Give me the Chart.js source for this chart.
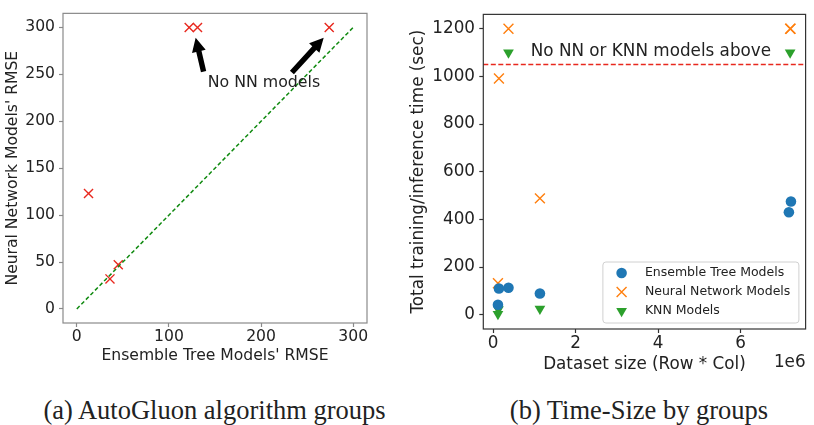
<!DOCTYPE html>
<html>
<head>
<meta charset="utf-8">
<script src="https://cdn.jsdelivr.net/npm/chart.js@4/dist/chart.umd.min.js"></script>
<style>
  body { margin: 0; background: #fff; width: 814px; height: 425px; position: relative; overflow: hidden; }
  canvas { position: absolute; }
  .cap { position: absolute; top: 394px; line-height: 32px; font-family: "Liberation Serif", serif; font-size: 26.5px; color: #222; text-align: center; white-space: nowrap; }
</style>
</head>
<body>
<canvas id="rmseChart" width="405" height="375" style="left:0;top:0"></canvas>
<canvas id="timeChart" width="409" height="375" style="left:405px;top:0"></canvas>
<div class="cap" style="left:0;width:429px">(a) AutoGluon algorithm groups</div>
<div class="cap" style="left:469px;width:340px">(b) Time-Size by groups</div>
<script>
/*global Chart*/

//----------------------------------------------------------------
/* data: (a) RMSE by algorithm group */
//----------------------------------------------------------------
var treeRmse = [12.7, 36, 45, 122, 131, 274];
var nnRmse = [123, 32, 47, 300, 300, 300];
var diagLine = [0, 300];
var rmseXTicks = [0, 100, 200, 300];
var rmseYTicks = [0, 50, 100, 150, 200, 250, 300];

//----------------------------------------------------------------
/* data: (b) time vs dataset size */
//----------------------------------------------------------------
var groupNames = ["Ensemble Tree Models", "Neural Network Models", "KNN Models"];
var treeSize = [0.119e6, 0.143e6, 0.374e6, 1.136e6, 7.17e6, 7.22e6];
var treeTime = [42, 110, 113, 89, 430, 475];
var nnSize = [0.119e6, 0.143e6, 0.374e6, 1.136e6, 7.2e6, 7.21e6];
var nnTime = [132, 991, 1200, 488, 1200, 1200];
var knnSize = [0.119e6, 0.13e6, 0.374e6, 1.136e6, 7.2e6];
var knnTime = [3, 22, 1100, 25, 1100];
var cutoff = 1050;
var sizeTicks = [0, 2e6, 4e6, 6e6];
var timeTicks = [0, 200, 400, 600, 800, 1000, 1200];

function pts(xs, ys) {
    return xs.map(function (x, i) { return {x: x, y: ys[i]}; });
}
function fixTicks(vals) {
    return function (axis) { axis.ticks = vals.map(function (v) { return {value: v}; }); };
}
function plain(v) { return String(v); }
function arrow(ctx, x0, y0, x1, y1) {
    var a = Math.atan2(y1 - y0, x1 - x0), len = Math.hypot(x1 - x0, y1 - y0);
    var hl = 14, hw = 7, sw = 2.7;
    ctx.save();
    ctx.translate(x0, y0);
    ctx.rotate(a);
    ctx.beginPath();
    ctx.moveTo(0, -sw);
    ctx.lineTo(len - hl, -sw);
    ctx.lineTo(len - hl, -hw);
    ctx.lineTo(len, 0);
    ctx.lineTo(len - hl, hw);
    ctx.lineTo(len - hl, sw);
    ctx.lineTo(0, sw);
    ctx.closePath();
    ctx.fillStyle = '#000';
    ctx.fill();
    ctx.restore();
}
function frame(color) {
    return {
        id: 'frame',
        afterDraw: function (chart) {
            var c = chart.chartArea, ctx = chart.ctx;
            ctx.save();
            ctx.strokeStyle = color;
            ctx.lineWidth = 1.2;
            ctx.strokeRect(c.left, c.top, c.right - c.left, c.bottom - c.top);
            ctx.restore();
        }
    };
}

//----------------------------------------------------------------
/* (a) AutoGluon algorithm groups */
//----------------------------------------------------------------
var fontA = {family: 'DejaVu Sans', size: 15.6};
var notesA = {
    id: 'notesA',
    afterDatasetsDraw: function (chart) {
        var ctx = chart.ctx, x = chart.scales.x, y = chart.scales.y;
        arrow(ctx, x.getPixelForValue(137.6), y.getPixelForValue(253), x.getPixelForValue(129), y.getPixelForValue(289));
        arrow(ctx, x.getPixelForValue(233.5), y.getPixelForValue(252), x.getPixelForValue(268), y.getPixelForValue(289));
        ctx.save();
        ctx.font = '15.8px "DejaVu Sans"';
        ctx.fillStyle = '#222';
        ctx.textBaseline = 'middle';
        ctx.fillText('No NN models', x.getPixelForValue(142), y.getPixelForValue(241));
        ctx.restore();
    }
};
new Chart(document.getElementById('rmseChart').getContext('2d'), {
    type: 'scatter',
    data: {
        datasets: [{
            type: 'line',
            data: pts(diagLine, diagLine),
            borderColor: '#108a10',
            borderWidth: 1.5,
            borderDash: [4, 2.5],
            pointRadius: 0,
            fill: false
        }, {
            data: pts(treeRmse, nnRmse),
            pointStyle: 'crossRot',
            pointRadius: 6.4,
            pointBorderWidth: 1.4,
            borderColor: '#e8281e',
            backgroundColor: '#e8281e'
        }]
    },
    options: {
        responsive: false,
        animation: false,
        devicePixelRatio: 1,
        layout: {padding: {top: 4, right: 38, left: 0, bottom: 0}},
        plugins: {legend: {display: false}, tooltip: {enabled: false}},
        scales: {
            x: {
                type: 'linear', min: -15, max: 315,
                afterBuildTicks: fixTicks(rmseXTicks),
                afterFit: function (s) { s.height = 52; },
                border: {display: false},
                grid: {drawOnChartArea: false, tickLength: 4, tickColor: '#8a8a8a', tickWidth: 1.2},
                ticks: {font: fontA, color: '#222', padding: 0.7, maxRotation: 0, callback: plain},
                title: {display: true, text: "Ensemble Tree Models' RMSE", font: fontA, color: '#222', padding: {top: 0, bottom: 9.7}}
            },
            y: {
                type: 'linear', min: -15, max: 315,
                afterBuildTicks: fixTicks(rmseYTicks),
                afterFit: function (s) { s.width = 63; },
                border: {display: false},
                grid: {drawOnChartArea: false, tickLength: 4, tickColor: '#8a8a8a', tickWidth: 1.2},
                ticks: {font: fontA, color: '#222', padding: 4, callback: plain},
                title: {display: true, text: "Neural Network Models' RMSE", font: fontA, color: '#222', padding: {top: 4, bottom: 0}}
            }
        }
    },
    plugins: [frame('#8a8a8a'), notesA]
});

//----------------------------------------------------------------
/* (b) Time-Size by groups */
//----------------------------------------------------------------
var fontB = {family: 'DejaVu Sans', size: 16.8};
var markers = [
    {style: 'circle', radius: 5.3, color: '#1f77b4', border: 0},
    {style: 'crossRot', radius: 7, color: '#ff7f0e', border: 1.4},
    {style: 'triangle', radius: 6.2, color: '#2ca02c', border: 0, rotation: 180}
];
var notesB = {
    id: 'notesB',
    beforeDatasetsDraw: function (chart) {
        var ctx = chart.ctx, c = chart.chartArea, yy = chart.scales.y.getPixelForValue(cutoff);
        ctx.save();
        ctx.strokeStyle = '#e8281e';
        ctx.lineWidth = 1.5;
        ctx.setLineDash([5, 2.5]);
        ctx.beginPath();
        ctx.moveTo(c.left, yy);
        ctx.lineTo(c.right, yy);
        ctx.stroke();
        ctx.restore();
    },
    afterDraw: function (chart) {
        var ctx = chart.ctx, c = chart.chartArea, x = chart.scales.x, y = chart.scales.y;
        ctx.save();
        ctx.fillStyle = '#222';
        ctx.font = '16.8px "DejaVu Sans"';
        ctx.textBaseline = 'middle';
        ctx.fillText('No NN or KNN models above', x.getPixelForValue(0.914e6), y.getPixelForValue(1104));
        ctx.textAlign = 'right';
        ctx.fillText('1e6', c.right, 363);
        // legend
        var bw = 196, bh = 61, bx = c.right - 6.7 - bw, by = c.bottom - 6 - bh;
        ctx.beginPath();
        ctx.roundRect(bx, by, bw, bh, 3);
        ctx.fillStyle = 'rgba(255,255,255,0.8)';
        ctx.fill();
        ctx.strokeStyle = '#d0d0d0';
        ctx.lineWidth = 1;
        ctx.stroke();
        ctx.font = '12.5px "DejaVu Sans"';
        ctx.textAlign = 'left';
        groupNames.forEach(function (name, i) {
            var m = markers[i], ry = by + 11 + i * 19;
            ctx.fillStyle = m.color;
            ctx.strokeStyle = m.color;
            ctx.lineWidth = m.border || 1;
            Chart.helpers.drawPoint(ctx, {pointStyle: m.style, radius: m.radius, rotation: m.rotation || 0, borderWidth: m.border}, bx + 18.7, ry);
            ctx.fillStyle = '#222';
            ctx.fillText(name, bx + 42, ry);
        });
        ctx.restore();
    }
};
function group(i, xs, ys) {
    var m = markers[i];
    return {
        label: groupNames[i],
        data: pts(xs, ys),
        pointStyle: m.style,
        pointRadius: m.radius,
        pointRotation: m.rotation || 0,
        pointBorderWidth: m.border,
        borderColor: m.color,
        backgroundColor: m.color
    };
}
new Chart(document.getElementById('timeChart').getContext('2d'), {
    type: 'scatter',
    data: {
        datasets: [
            group(0, treeSize, treeTime),
            group(1, nnSize, nnTime),
            group(2, knnSize, knnTime)
        ]
    },
    options: {
        responsive: false,
        animation: false,
        devicePixelRatio: 1,
        layout: {padding: {top: 9, right: 2.3, left: 0, bottom: 0}},
        plugins: {legend: {display: false}, tooltip: {enabled: false}},
        scales: {
            x: {
                type: 'linear', min: -0.236e6, max: 7.575e6,
                afterBuildTicks: fixTicks(sizeTicks),
                afterFit: function (s) { s.height = 46; },
                border: {display: false},
                grid: {drawOnChartArea: false, tickLength: 4, tickColor: '#333', tickWidth: 1.2},
                ticks: {font: fontB, color: '#222', padding: 0.2, maxRotation: 0, callback: function (v) { return String(v / 1e6); }},
                title: {display: true, text: 'Dataset size (Row * Col)', font: fontB, color: '#222', padding: {top: 0, bottom: 0.6}}
            },
            y: {
                type: 'linear', min: -60, max: 1260,
                afterBuildTicks: fixTicks(timeTicks),
                afterFit: function (s) { s.width = 78.3; },
                border: {display: false},
                grid: {drawOnChartArea: false, tickLength: 4, tickColor: '#333', tickWidth: 1.2},
                ticks: {font: fontB, color: '#222', padding: 4.3, callback: plain},
                title: {display: true, text: 'Total training/inference time (sec)', font: fontB, color: '#222', padding: {top: 3.2, bottom: 0}}
            }
        }
    },
    plugins: [frame('#333'), notesB]
});
</script>
</body>
</html>
